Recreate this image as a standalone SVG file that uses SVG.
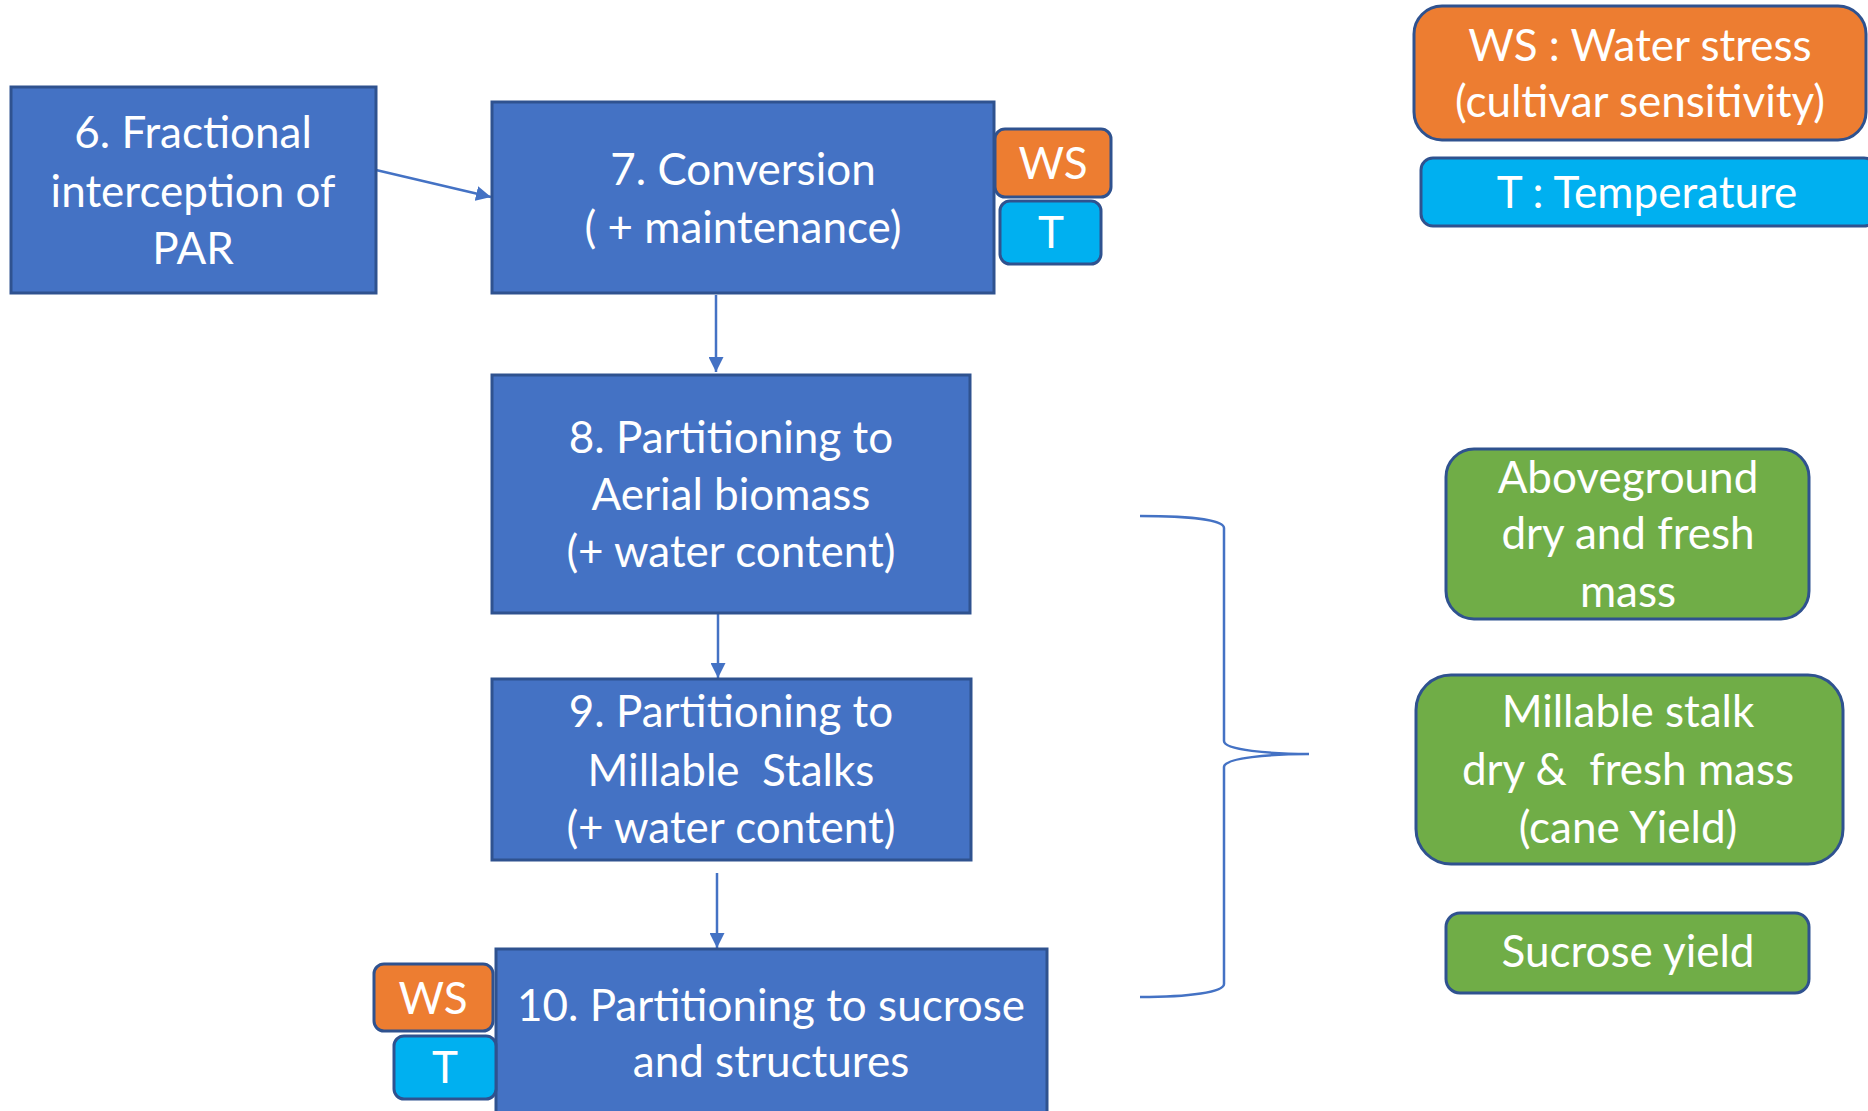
<svg xmlns="http://www.w3.org/2000/svg" width="1868" height="1111" viewBox="0 0 1868 1111">
<style>
text{font-family:Lato,"Open Sans","Liberation Sans",sans-serif;fill:#fff;text-anchor:middle;font-size:44px;white-space:pre}
.box{fill:#4472C4;stroke:#2F528F;stroke-width:3}
.ws{fill:#ED7D31;stroke:#2F528F;stroke-width:3}
.t{fill:#00B0F0;stroke:#2F528F;stroke-width:3}
.g{fill:#70AD47;stroke:#2F528F;stroke-width:3}
.c{fill:none;stroke:#4472C4;stroke-width:2.5}
</style>
<defs>
<marker id="ah" viewBox="0 0 10 10" refX="10" refY="5" markerWidth="6" markerHeight="6" markerUnits="strokeWidth" orient="auto">
<path d="M0,0 L10,5 L0,10 z" fill="#4472C4"/>
</marker>
</defs>
<rect width="1868" height="1111" fill="#fff"/>
<g id="connectors">
<line class="c" x1="376" y1="170" x2="491" y2="197" marker-end="url(#ah)"/>
<line class="c" x1="716" y1="295" x2="716" y2="372" marker-end="url(#ah)"/>
<line class="c" x1="718" y1="614" x2="718" y2="678" marker-end="url(#ah)"/>
<line class="c" x1="717" y1="873" x2="717" y2="948" marker-end="url(#ah)"/>
<path class="c" d="M1140,516 C1190,516 1224,520 1224,528 L1224,741 C1224,750 1270,754 1309,754 C1270,754 1224,758 1224,767 L1224,984 C1224,992 1190,997 1140,997"/>
</g>
<g id="n6"><rect class="box" x="11" y="87" width="365" height="206"/>
<text x="193" y="148">6. Fractional</text><text x="193" y="207">interception of</text><text x="193" y="264">PAR</text></g>
<g id="n7"><rect class="box" x="492" y="102" width="502" height="191"/>
<text x="743" y="185">7. Conversion</text><text x="743" y="243">( + maintenance)</text></g>
<g id="n7ws"><rect class="ws" x="995" y="129" width="116" height="68" rx="10"/><text x="1053" y="179">WS</text></g>
<g id="n7t"><rect class="t" x="1000" y="201" width="101" height="63" rx="10"/><text x="1051" y="248">T</text></g>
<g id="n8"><rect class="box" x="492" y="375" width="478" height="238"/>
<text x="731" y="453">8. Partitioning to</text><text x="731" y="510">Aerial biomass</text><text x="731" y="567">(+ water content)</text></g>
<g id="n9"><rect class="box" x="492" y="679" width="479" height="181"/>
<text x="731" y="727">9. Partitioning to</text><text x="731" y="786" xml:space="preserve">Millable  Stalks</text><text x="731" y="843">(+ water content)</text></g>
<g id="n10"><rect class="box" x="496" y="949" width="551" height="175"/>
<text x="771" y="1021">10. Partitioning to sucrose</text><text x="771" y="1077">and structures</text></g>
<g id="n10ws"><rect class="ws" x="374" y="964" width="119" height="67" rx="10"/><text x="433" y="1014">WS</text></g>
<g id="n10t"><rect class="t" x="394" y="1036" width="102" height="63" rx="10"/><text x="445" y="1083">T</text></g>
<g id="legend-ws"><rect class="ws" x="1414" y="6" width="452" height="134" rx="28"/>
<text x="1640" y="61">WS : Water stress</text><text x="1640" y="117">(cultivar sensitivity)</text></g>
<g id="legend-t"><rect class="t" x="1421" y="158" width="455" height="68" rx="12"/><text x="1647" y="208">T : Temperature</text></g>
<g id="out-above"><rect class="g" x="1446" y="449" width="363" height="170" rx="28"/>
<text x="1628" y="493">Aboveground</text><text x="1628" y="549">dry and fresh</text><text x="1628" y="607">mass</text></g>
<g id="out-stalk"><rect class="g" x="1416" y="675" width="427" height="189" rx="35"/>
<text x="1628" y="727">Millable stalk</text><text x="1628" y="785" xml:space="preserve">dry &amp;  fresh mass</text><text x="1628" y="843">(cane Yield)</text></g>
<g id="out-sucrose"><rect class="g" x="1446" y="913" width="363" height="80" rx="14"/><text x="1628" y="967">Sucrose yield</text></g>
</svg>
